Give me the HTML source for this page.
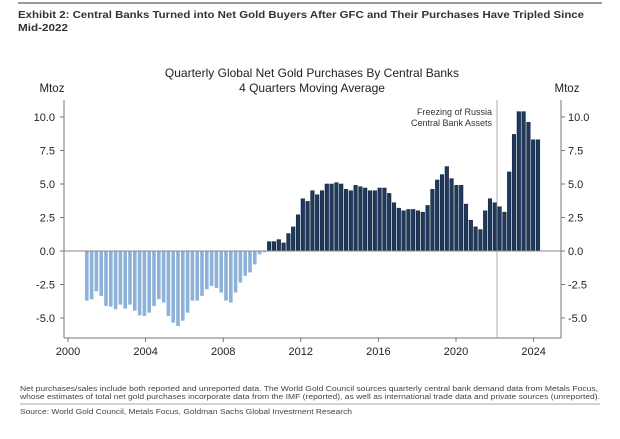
<!DOCTYPE html>
<html><head><meta charset="utf-8"><style>
body{margin:0;background:#fff;width:620px;height:434px;overflow:hidden;font-family:"Liberation Sans",sans-serif}
</style></head><body>
<svg id="s" width="620" height="434" xmlns="http://www.w3.org/2000/svg" font-family="Liberation Sans, sans-serif">
<line x1="18" y1="3" x2="602" y2="3" stroke="#999" stroke-width="2"/>
<text x="18" y="18" font-size="10.5" font-weight="bold" fill="#333" textLength="566" lengthAdjust="spacingAndGlyphs">Exhibit 2: Central Banks Turned into Net Gold Buyers After GFC and Their Purchases Have Tripled Since</text>
<text x="18" y="31" font-size="10.5" font-weight="bold" fill="#333" textLength="50" lengthAdjust="spacingAndGlyphs">Mid-2022</text>
<text x="312" y="77" font-size="12" text-anchor="middle" fill="#222">Quarterly Global Net Gold Purchases By Central Banks</text>
<text x="312" y="92" font-size="12" text-anchor="middle" fill="#222">4 Quarters Moving Average</text>
<text x="52" y="92" font-size="11.5" text-anchor="middle" fill="#222">Mtoz</text>
<text x="567" y="92" font-size="11.5" text-anchor="middle" fill="#222">Mtoz</text>
<g id="bars"></g>
<line x1="64" y1="251" x2="561" y2="251" stroke="#888" stroke-width="1"/>
<line x1="64" y1="100" x2="64" y2="338" stroke="#777"/>
<line x1="561" y1="100" x2="561" y2="338" stroke="#777"/>
<line x1="64" y1="338" x2="561" y2="338" stroke="#777"/>
<line x1="497" y1="100" x2="497" y2="338" stroke="#999" stroke-width="0.8"/>
<text x="492" y="115" font-size="9" text-anchor="end" fill="#333">Freezing of Russia</text>
<text x="492" y="126" font-size="9" text-anchor="end" fill="#333">Central Bank Assets</text>
<g id="ax" font-size="11" fill="#222"></g>
<text x="20" y="391" font-size="7" fill="#444" textLength="578" lengthAdjust="spacingAndGlyphs">Net purchases/sales include both reported and unreported data. The World Gold Council sources quarterly central bank demand data from Metals Focus,</text>
<text x="20" y="399" font-size="7" fill="#444" textLength="580" lengthAdjust="spacingAndGlyphs">whose estimates of total net gold purchases incorporate data from the IMF (reported), as well as international trade data and private sources (unreported).</text>
<line x1="20" y1="404" x2="600" y2="404" stroke="#aaa"/>
<text x="20" y="414" font-size="7" fill="#444" textLength="332" lengthAdjust="spacingAndGlyphs">Source: World Gold Council, Metals Focus, Goldman Sachs Global Investment Research</text>
</svg>
<script>
var v=[-3.7,-3.6,-3.0,-3.35,-4.1,-4.15,-4.35,-4.0,-4.3,-4.0,-4.45,-4.8,-4.85,-4.6,-4.1,-3.6,-3.85,-4.85,-5.35,-5.6,-5.2,-4.6,-3.7,-3.7,-3.35,-2.85,-2.6,-2.75,-3.1,-3.7,-3.85,-3.1,-2.35,-1.85,-1.6,-1.0,-0.25,-0.1,
0.7,0.7,0.85,0.6,1.3,1.8,2.7,3.9,3.7,4.5,4.2,4.5,5.0,5.0,5.1,5.0,4.6,4.5,4.9,4.8,4.7,4.5,4.5,4.7,4.7,4.3,3.6,3.2,3.0,3.1,3.1,3.0,2.9,3.4,4.6,5.3,5.7,6.3,5.4,4.9,4.9,3.5,2.3,1.8,1.6,3.0,3.9,3.6,3.3,2.9,5.9,8.7,10.4,10.4,9.6,8.3,8.3];
var ns="http://www.w3.org/2000/svg",g=document.getElementById("bars"),a=document.getElementById("ax");
function el(t,o,p){var e=document.createElementNS(ns,t);for(var k in o)e.setAttribute(k,o[k]);p.appendChild(e);return e;}
var z=251,u=13.4;
v.forEach(function(d,i){var x=85+i*4.8;var h=Math.abs(d)*u;var y=d>0?z-h:z;
el("rect",{x:x,y:y,width:3.6,height:h,fill:d>0?"#1f3a5f":"#8db2da",stroke:d>0?"#0d1a2c":"none","stroke-width":0.5},g);});
[10,7.5,5,2.5,0,-2.5,-5].forEach(function(t){var y=z-t*u;
el("line",{x1:60,y1:y,x2:64,y2:y,stroke:"#777"},a);el("line",{x1:561,y1:y,x2:565,y2:y,stroke:"#777"},a);
var s=t.toFixed(1);el("text",{x:55,y:y+4,"text-anchor":"end"},a).textContent=s;el("text",{x:568,y:y+4},a).textContent=s;});
for(var yr=2000;yr<=2024;yr+=4){var x=68+(yr-2000)*19.4;el("line",{x1:x,y1:338,x2:x,y2:342,stroke:"#777"},a);
el("text",{x:x,y:355,"text-anchor":"middle"},a).textContent=yr;}
</script>
</body></html>
